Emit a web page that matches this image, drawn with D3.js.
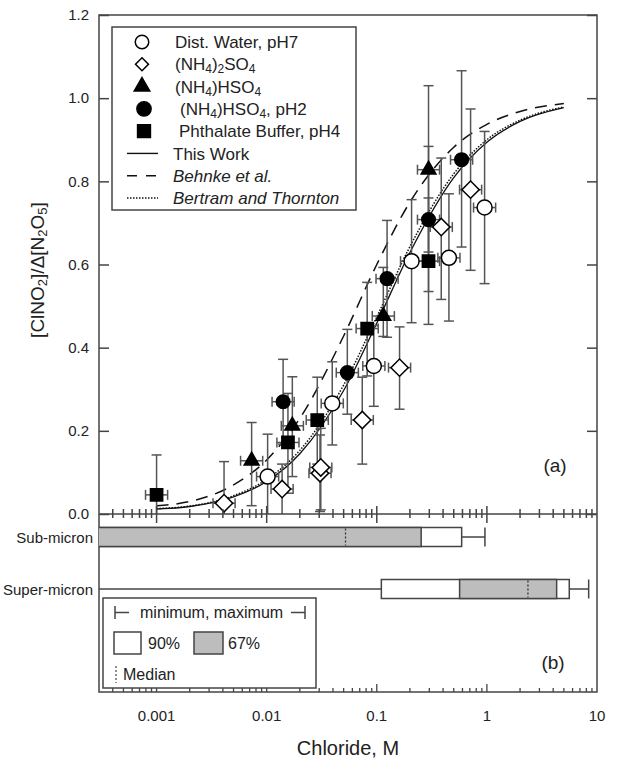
<!DOCTYPE html>
<html>
<head>
<meta charset="utf-8">
<script src="https://cdn.jsdelivr.net/npm/d3@7"></script>
<style>
  html, body { margin: 0; padding: 0; background: #fff; }
</style>
</head>
<body>
<div class="chart-container"></div>
<script>
//---->DATA<-----//
// model curves
const curveX = [0.001, 0.002, 0.005, 0.01, 0.02, 0.05, 0.1, 0.2, 0.5, 1, 2, 5];
const thisWork = [0.012, 0.018, 0.041, 0.078, 0.145, 0.297, 0.459, 0.629, 0.809, 0.894, 0.944, 0.977];
const behnke = [0.02, 0.03, 0.07, 0.13, 0.23, 0.428, 0.6, 0.75, 0.882, 0.937, 0.968, 0.987];
const bertram = [0.013, 0.019, 0.044, 0.083, 0.153, 0.31, 0.474, 0.643, 0.818, 0.9, 0.947, 0.979];

// Dist. Water, pH7
const waterX = [0.0102, 0.0394, 0.094, 0.207, 0.452, 0.953];
const waterY = [0.09, 0.266, 0.356, 0.608, 0.616, 0.737];
const waterLo = [0, 0.166, 0.259, 0.46, 0.464, 0.554];
const waterHi = [0.192, 0.366, 0.453, 0.756, 0.77, 0.92];

// (NH4)2SO4
const sulfX = [0.0041, 0.0138, 0.0305, 0.031, 0.0738, 0.161, 0.385, 0.711];
const sulfY = [0.026, 0.06, 0.098, 0.112, 0.226, 0.352, 0.69, 0.78];
const sulfLo = [0, 0, 0.006, 0.01, 0.12, 0.252, 0.516, 0.586];
const sulfHi = [0.126, 0.12, 0.19, 0.206, 0.329, 0.45, 0.856, 0.974];

// (NH4)HSO4
const bisX = [0.0073, 0.0171, 0.1146, 0.295];
const bisY = [0.128, 0.212, 0.476, 0.828];
const bisLo = [0.02, 0.09, 0.427, 0.63];
const bisHi = [0.22, 0.33, 0.593, 1.03];

// (NH4)HSO4, pH2
const bis2X = [0.0141, 0.054, 0.124, 0.295, 0.589];
const bis2Y = [0.27, 0.34, 0.566, 0.708, 0.852];
const bis2Lo = [0.168, 0.24, 0.425, 0.535, 0.642];
const bis2Hi = [0.372, 0.444, 0.706, 0.884, 1.066];

// Phthalate Buffer, pH4
const phthX = [0.001, 0.0156, 0.0288, 0.0818, 0.295];
const phthY = [0.046, 0.172, 0.226, 0.446, 0.608];
const phthLo = [0, 0.05, 0.12, 0.332, 0.456];
const phthHi = [0.142, 0.29, 0.329, 0.557, 0.76];

const xErrFactor = 1.26;

// panel (b): chloride distributions
const sizeBins = ['Sub-micron', 'Super-micron'];
const binMin = [0.00001, 0.0001];
const bin90Lo = [0.00003, 0.11];
const bin67Lo = [0.0001, 0.565];
const binMedian = [0.052, 2.36];
const bin67Hi = [0.253, 4.3];
const bin90Hi = [0.59, 5.6];
const binMax = [0.96, 8.4];

const yTicks = [0, 0.2, 0.4, 0.6, 0.8, 1.0, 1.2];
const xLabels = [0.001, 0.01, 0.1, 1, 10];

//---->LAYOUT<-----//
const FONT = '"Liberation Sans", Arial, Helvetica, sans-serif';
const outerW = 617, outerH = 762;
const xL = 99, xR = 597, yT = 15, yM = 514, yB = 692;
const ink = '#222', axisCol = '#444', barCol = '#555';

const x = d3.scaleLog().domain([0.0003, 10]).range([xL, xR]);
const y = d3.scaleLinear().domain([0, 1.2]).range([yM, yT]);
const band = d3.scalePoint().domain(sizeBins).range([yM + 23, yM + 75]);

const svg = d3.select('.chart-container').append('svg')
  .attr('width', outerW)
  .attr('height', outerH)
  .style('font-family', FONT);

svg.append('rect').attr('width', outerW).attr('height', outerH).attr('fill', '#fff');

const defs = svg.append('defs');
defs.append('clipPath').attr('id', 'clipA').append('rect')
  .attr('x', xL).attr('y', yT).attr('width', xR - xL).attr('height', yM - yT);
defs.append('clipPath').attr('id', 'clipB').append('rect')
  .attr('x', xL).attr('y', yM).attr('width', xR - xL).attr('height', yB - yM);

function zip(xs, ys, lo, hi) {
  return xs.map((d, i) => ({ x: d, y: ys[i], lo: lo[i], hi: hi[i] }));
}

const series = [
  { name: 'water', type: 'circleOpen', data: zip(waterX, waterY, waterLo, waterHi) },
  { name: 'sulf', type: 'diamond', data: zip(sulfX, sulfY, sulfLo, sulfHi) },
  { name: 'bis', type: 'triangle', data: zip(bisX, bisY, bisLo, bisHi) },
  { name: 'bis2', type: 'circle', data: zip(bis2X, bis2Y, bis2Lo, bis2Hi) },
  { name: 'phth', type: 'square', data: zip(phthX, phthY, phthLo, phthHi) }
];

function marker(g, type, cx, cy, s) {
  s = s || 1;
  let p;
  if (type === 'circleOpen') {
    p = g.append('circle').attr('r', 7.5 * s).attr('fill', '#fff');
  } else if (type === 'circle') {
    p = g.append('circle').attr('r', 6.8 * s).attr('fill', '#000');
  } else if (type === 'square') {
    p = g.append('path').attr('d', d3.symbol(d3.symbolSquare, 150 * s * s)()).attr('fill', '#000');
  } else if (type === 'diamond') {
    p = g.append('path').attr('d', d3.symbol(d3.symbolSquare, 150 * s * s)()).attr('fill', '#fff');
  } else {
    p = g.append('path').attr('d', d3.symbol(d3.symbolTriangle, 95 * s * s)()).attr('fill', '#000');
  }
  p.attr('stroke', '#000').attr('stroke-width', 1.5)
    .attr('transform', `translate(${cx},${cy})` + (type === 'diamond' ? ' rotate(45)' : ''));
  return p;
}

//---->PANEL A<-----//
const gA = svg.append('g').attr('clip-path', 'url(#clipA)');

const line = d3.line()
  .x(d => x(d[0]))
  .y(d => y(d[1]))
  .curve(d3.curveMonotoneX);

const curves = [
  { vals: thisWork, dash: null, w: 1.3 },
  { vals: behnke, dash: '12,8', w: 1.5 },
  { vals: bertram, dash: '1.5,1.5', w: 1.5 }
];

gA.selectAll('path.model')
  .data(curves)
  .enter()
  .append('path')
  .attr('class', 'model')
  .attr('fill', 'none')
  .attr('stroke', '#111')
  .attr('stroke-width', d => d.w)
  .attr('stroke-dasharray', d => d.dash)
  .attr('d', d => line(curveX.map((c, i) => [c, d.vals[i]])));

// error bars
const capW = 5;
series.forEach(s => {
  const eb = gA.append('g')
    .attr('stroke', barCol)
    .attr('stroke-width', 1.5)
    .attr('fill', 'none');
  s.data.forEach(d => {
    const px = x(d.x), py = y(d.y);
    const y0 = y(d.lo), y1 = y(d.hi);
    eb.append('line').attr('x1', px).attr('x2', px).attr('y1', y0).attr('y2', y1);
    eb.append('line').attr('x1', px - capW).attr('x2', px + capW).attr('y1', y1).attr('y2', y1);
    if (d.lo > 0) eb.append('line').attr('x1', px - capW).attr('x2', px + capW).attr('y1', y0).attr('y2', y0);
    const xa = x(d.x / xErrFactor), xb = x(d.x * xErrFactor);
    eb.append('line').attr('x1', xa).attr('x2', xb).attr('y1', py).attr('y2', py);
    eb.append('line').attr('x1', xa).attr('x2', xa).attr('y1', py - capW).attr('y2', py + capW);
    eb.append('line').attr('x1', xb).attr('x2', xb).attr('y1', py - capW).attr('y2', py + capW);
  });
});

series.forEach(s => {
  const gm = gA.append('g');
  s.data.forEach(d => marker(gm, s.type, x(d.x), y(d.y)));
});

// frame
svg.append('rect')
  .attr('x', xL).attr('y', yT)
  .attr('width', xR - xL).attr('height', yB - yT)
  .attr('fill', 'none').attr('stroke', axisCol).attr('stroke-width', 1.5);

// y axes (ticks inward)
svg.append('g')
  .attr('transform', `translate(${xL},0)`)
  .call(d3.axisLeft(y).tickValues(yTicks).tickFormat(d3.format('.1f')).tickSizeInner(-10).tickSizeOuter(0).tickPadding(10))
  .call(g => g.select('.domain').remove())
  .call(g => g.selectAll('line').attr('stroke', axisCol).attr('stroke-width', 1.5))
  .call(g => g.selectAll('text').attr('font-size', 15).attr('fill', ink).attr('font-family', FONT));

svg.append('g')
  .attr('transform', `translate(${xR},0)`)
  .call(d3.axisRight(y).tickValues(yTicks).tickFormat('').tickSizeInner(-10).tickSizeOuter(0))
  .call(g => g.select('.domain').remove())
  .call(g => g.selectAll('line').attr('stroke', axisCol).attr('stroke-width', 1.5));

// x axis between panels (ticks cross the line)
const isMajor = t => Math.abs(Math.log10(t) - Math.round(Math.log10(t))) < 1e-6;
const xt = x.ticks().filter(t => x(t) > xL + 0.5 && x(t) < xR - 0.5);

svg.append('line')
  .attr('x1', xL).attr('x2', xR).attr('y1', yM).attr('y2', yM)
  .attr('stroke', axisCol).attr('stroke-width', 1.5);

svg.append('g')
  .selectAll('line')
  .data(xt)
  .enter()
  .append('line')
  .attr('x1', d => x(d)).attr('x2', d => x(d))
  .attr('y1', d => isMajor(d) ? yM - 8 : yM - 5)
  .attr('y2', d => isMajor(d) ? yM + 9 : yM + 4)
  .attr('stroke', axisCol).attr('stroke-width', 1.5);

// bottom axis (ticks point up)
svg.append('g')
  .selectAll('line')
  .data(xt)
  .enter()
  .append('line')
  .attr('x1', d => x(d)).attr('x2', d => x(d))
  .attr('y1', yB)
  .attr('y2', d => isMajor(d) ? yB - 8 : yB - 4)
  .attr('stroke', axisCol).attr('stroke-width', 1.3);

svg.append('g')
  .selectAll('text')
  .data(xLabels)
  .enter()
  .append('text')
  .attr('x', d => x(d))
  .attr('y', yB + 29)
  .attr('text-anchor', 'middle')
  .attr('font-size', 15)
  .attr('fill', ink)
  .text(d => d);

svg.append('text')
  .attr('x', (xL + xR) / 2)
  .attr('y', 755)
  .attr('text-anchor', 'middle')
  .attr('font-size', 20)
  .attr('fill', ink)
  .text('Chloride, M');

// y label [ClNO2]/Δ[N2O5]
const yl = svg.append('text')
  .attr('transform', 'translate(37,270) rotate(-90)')
  .attr('text-anchor', 'middle')
  .attr('dy', '0.35em')
  .attr('font-size', 19)
  .attr('fill', ink);
[['[ClNO', 0], ['2', 1], [']/Δ[N', 0], ['2', 1], ['O', 0], ['5', 1], [']', 0]].forEach(([t, sub]) => {
  const ts = yl.append('tspan').text(t);
  if (sub) ts.attr('font-size', 13).attr('baseline-shift', '-25%');
});

svg.append('text').attr('x', 555).attr('y', 472).attr('text-anchor', 'middle')
  .attr('font-size', 19).attr('fill', ink).text('(a)');
svg.append('text').attr('x', 553).attr('y', 669).attr('text-anchor', 'middle')
  .attr('font-size', 19).attr('fill', ink).text('(b)');

// legend (a)
const legA = svg.append('g');
legA.append('rect')
  .attr('x', 112).attr('y', 27).attr('width', 244).attr('height', 183)
  .attr('fill', '#fff').attr('stroke', axisCol).attr('stroke-width', 1.5);

const legendRows = [
  { type: 'circleOpen', mx: 142, tx: 175, parts: [['Dist. Water, pH7', 0]] },
  { type: 'diamond', mx: 142, tx: 175, parts: [['(NH', 0], ['4', 1], [')', 0], ['2', 1], ['SO', 0], ['4', 1]] },
  { type: 'triangle', mx: 142, tx: 175, parts: [['(NH', 0], ['4', 1], [')HSO', 0], ['4', 1]] },
  { type: 'circle', mx: 144, tx: 180, parts: [['(NH', 0], ['4', 1], [')HSO', 0], ['4', 1], [', pH2', 0]] },
  { type: 'square', mx: 144, tx: 179, parts: [['Phthalate Buffer, pH4', 0]] },
  { type: 'line', dash: null, tx: 173, parts: [['This Work', 0]] },
  { type: 'line', dash: '10,9', tx: 173, italic: true, parts: [['Behnke et al.', 0]] },
  { type: 'line', dash: '1.5,1.5', tx: 173, italic: true, parts: [['Bertram and Thornton', 0]] }
];
const legRowY = d3.scaleLinear().domain([0, 7]).range([42, 198]);

legendRows.forEach((r, i) => {
  const ry = legRowY(i);
  if (r.type === 'line') {
    legA.append('line').attr('x1', 127).attr('x2', 158).attr('y1', ry).attr('y2', ry)
      .attr('stroke', '#111').attr('stroke-width', 1.4).attr('stroke-dasharray', r.dash);
  } else {
    marker(legA, r.type, r.mx, ry, r.type === 'circleOpen' ? 0.9 : r.type === 'diamond' ? 0.75 : 1.05);
  }
  const t = legA.append('text').attr('x', r.tx).attr('y', ry).attr('dy', '0.36em')
    .attr('font-size', 17).attr('fill', ink)
    .attr('font-style', r.italic ? 'italic' : null);
  r.parts.forEach(([s, sub]) => {
    const ts = t.append('tspan').text(s);
    if (sub) ts.attr('font-size', 12).attr('baseline-shift', '-25%');
  });
});

//---->PANEL B<-----//
const gB = svg.append('g').attr('clip-path', 'url(#clipB)');
const boxH = 19;

sizeBins.forEach((name, i) => {
  const cy = band(name);
  const g = gB.append('g').attr('stroke', axisCol).attr('stroke-width', 1.5);
  // whiskers
  g.append('line').attr('x1', x(binMin[i])).attr('x2', x(bin90Lo[i])).attr('y1', cy).attr('y2', cy);
  g.append('line').attr('x1', x(bin90Hi[i])).attr('x2', x(binMax[i])).attr('y1', cy).attr('y2', cy);
  g.append('line').attr('x1', x(binMax[i])).attr('x2', x(binMax[i])).attr('y1', cy - boxH / 2).attr('y2', cy + boxH / 2);
  g.append('line').attr('x1', x(binMin[i])).attr('x2', x(binMin[i])).attr('y1', cy - boxH / 2).attr('y2', cy + boxH / 2);
  // 90% box
  g.append('rect').attr('x', x(bin90Lo[i])).attr('y', cy - boxH / 2)
    .attr('width', x(bin90Hi[i]) - x(bin90Lo[i])).attr('height', boxH).attr('fill', '#fff');
  // 67% box
  g.append('rect').attr('x', x(bin67Lo[i])).attr('y', cy - boxH / 2)
    .attr('width', x(bin67Hi[i]) - x(bin67Lo[i])).attr('height', boxH).attr('fill', '#bdbdbd');
  // median
  g.append('line').attr('x1', x(binMedian[i])).attr('x2', x(binMedian[i]))
    .attr('y1', cy - boxH / 2 + 1).attr('y2', cy + boxH / 2 - 1)
    .attr('stroke', '#333').attr('stroke-width', 1.3).attr('stroke-dasharray', '2,2');

  // category label, sized to fit the left margin
  svg.append('text').attr('x', 93).attr('y', cy + 6).attr('text-anchor', 'end')
    .attr('font-size', 15).attr('fill', ink).text(name);
});

// legend (b)
const legB = svg.append('g');
legB.append('rect')
  .attr('x', 103).attr('y', 598).attr('width', 213).attr('height', 90)
  .attr('fill', '#fff').attr('stroke', axisCol).attr('stroke-width', 1.5);
const lb = legB.append('g').attr('stroke', axisCol).attr('stroke-width', 1.5);
lb.append('line').attr('x1', 115).attr('x2', 115).attr('y1', 606).attr('y2', 619);
lb.append('line').attr('x1', 115).attr('x2', 129).attr('y1', 612.5).attr('y2', 612.5);
lb.append('line').attr('x1', 305).attr('x2', 305).attr('y1', 606).attr('y2', 619);
lb.append('line').attr('x1', 291).attr('x2', 305).attr('y1', 612.5).attr('y2', 612.5);
legB.append('text').attr('x', 140).attr('y', 612.5).attr('dy', '0.35em')
  .attr('font-size', 16).attr('fill', ink).text('minimum, maximum');
lb.append('rect').attr('x', 114).attr('y', 632).attr('width', 27).attr('height', 22).attr('fill', '#fff');
legB.append('text').attr('x', 148).attr('y', 643).attr('dy', '0.35em')
  .attr('font-size', 16).attr('fill', ink).text('90%');
lb.append('rect').attr('x', 194).attr('y', 632).attr('width', 29).attr('height', 22).attr('fill', '#bdbdbd');
legB.append('text').attr('x', 228).attr('y', 643).attr('dy', '0.35em')
  .attr('font-size', 16).attr('fill', ink).text('67%');
lb.append('line').attr('x1', 116).attr('x2', 116).attr('y1', 666).attr('y2', 683)
  .attr('stroke-dasharray', '2,2').attr('stroke-width', 1.2);
legB.append('text').attr('x', 123).attr('y', 674).attr('dy', '0.35em')
  .attr('font-size', 16).attr('fill', ink).text('Median');
</script>
</body>
</html>
